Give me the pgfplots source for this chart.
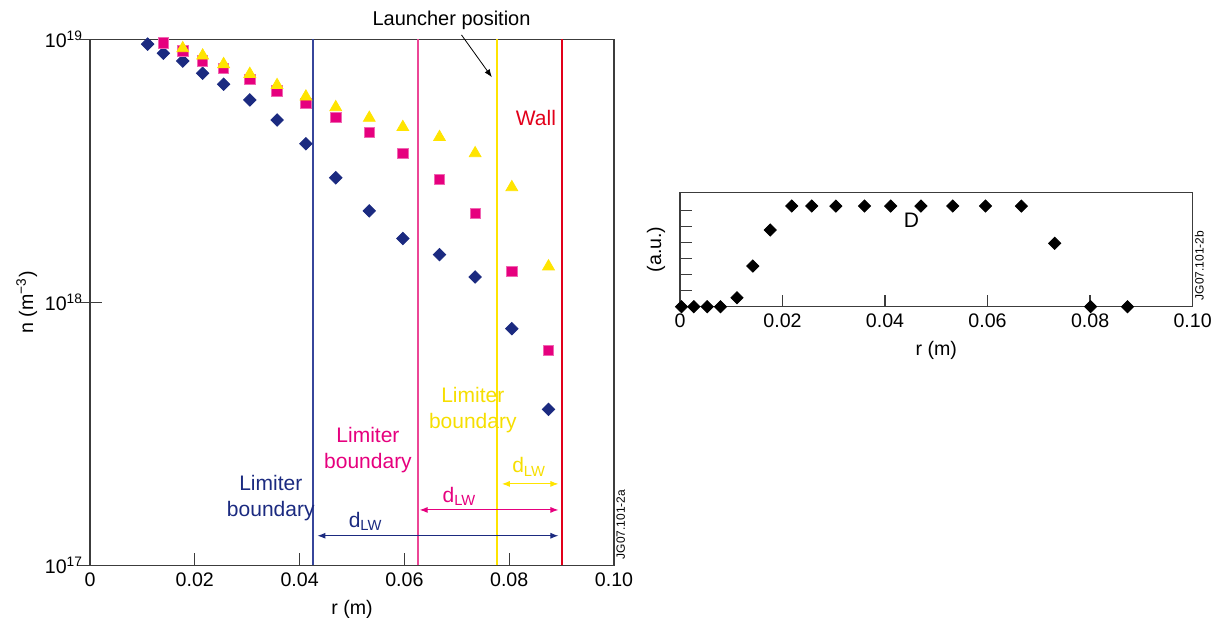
\documentclass[border=0pt]{standalone}
\usepackage{fontspec}
\setmainfont{Liberation Sans}
\usepackage{pgfplots}
\pgfplotsset{compat=1.18}
\usetikzlibrary{arrows.meta}
\definecolor{dblue}{RGB}{27,42,128}
\definecolor{lblue}{RGB}{55,70,155}
\definecolor{mag}{RGB}{230,0,126}
\definecolor{pinkline}{RGB}{236,70,150}
\definecolor{yel}{RGB}{255,228,0}
\definecolor{yeltext}{RGB}{246,222,0}
\definecolor{wallred}{RGB}{226,0,26}
\definecolor{axgray}{RGB}{60,60,60}
\begin{document}
\begin{tikzpicture}[font=\fontsize{9.8}{11}\selectfont]
\useasboundingbox (0,0) rectangle (610.5pt,308.5pt);
\begin{axis}[
  at={(45pt,25.75pt)}, anchor=south west,
  scale only axis, width=262pt, height=263pt,
  xmin=0, xmax=0.10, ymode=log, ymin=1e17, ymax=1e19,
  xtick={0,0.02,0.04,0.06,0.08,0.10},
  xticklabels={0,0.02,0.04,0.06,0.08,0.10},
  ytick={1e17,1e18,1e19},
  yticklabels={10\textsuperscript{17},10\textsuperscript{18},10\textsuperscript{19}},
  yminorticks=false,
  extra y ticks={1e17,1e18,1e19}, extra y tick labels={},
  extra y tick style={tick align=outside},
  xtick pos=bottom, ytick pos=left,
  tick align=inside, major tick length=6pt,
  axis line style={draw=axgray, line width=0.7pt},
  tick style={draw=axgray, line width=0.6pt},
  xlabel={r (m)}, ylabel={n (m\textsuperscript{−3})},
  ylabel shift=-9pt,
  clip=false,
]
\addplot[draw=lblue, line width=0.9pt] coordinates {(0.0425,1e17) (0.0425,1e19)};
\addplot[draw=pinkline, line width=0.9pt] coordinates {(0.0626,1e17) (0.0626,1e19)};
\addplot[draw=yel, line width=0.9pt] coordinates {(0.0777,1e17) (0.0777,1e19)};
\addplot[draw=wallred, line width=0.9pt] coordinates {(0.0901,1e17) (0.0901,1e19)};
\addplot[only marks, mark=square*, mark size=2.2pt, mark options={rotate=45, fill=dblue, draw=dblue}] coordinates {
(0.0110,9.6e18) (0.0140,8.86e18) (0.0177,8.28e18) (0.0215,7.44e18) (0.0255,6.76e18)
(0.0305,5.89e18) (0.0357,4.94e18) (0.0412,4.01e18) (0.0469,2.98e18) (0.0533,2.23e18)
(0.0597,1.75e18) (0.0667,1.52e18) (0.0735,1.25e18) (0.0805,7.95e17) (0.0875,3.92e17)};
\addplot[only marks, mark=square*, mark size=2.6pt, mark options={fill=mag, draw=mag!60}] coordinates {
(0.0140,9.7e18) (0.0177,9.04e18) (0.0215,8.28e18) (0.0255,7.77e18) (0.0305,7.06e18)
(0.0357,6.38e18) (0.0412,5.71e18) (0.0469,5.06e18) (0.0533,4.43e18) (0.0597,3.69e18)
(0.0667,2.94e18) (0.0735,2.18e18) (0.0805,1.31e18) (0.0875,6.56e17)};
\addplot[only marks, mark=triangle*, mark size=3.4pt, mark options={fill=yel, draw=yel}] coordinates {
(0.0177,9.25e18) (0.0215,8.68e18) (0.0255,8.05e18) (0.0305,7.39e18) (0.0357,6.70e18)
(0.0412,6.06e18) (0.0469,5.52e18) (0.0533,5.03e18) (0.0597,4.64e18) (0.0667,4.25e18)
(0.0735,3.69e18) (0.0805,2.74e18) (0.0875,1.37e18)};
% annotations
\node[font=\fontsize{10}{12}\selectfont] at (axis cs:0.069,1.186e19) {Launcher position};
\draw[-{Latex[length=4pt,width=3pt]}, line width=0.4pt] (axis cs:0.0709,1.040e19) -- (axis cs:0.0767,7.18e18);
\node[text=wallred, font=\fontsize{10.5}{12}\selectfont] at (axis cs:0.0851,5.03e18) {Wall};
\node[text=yeltext, align=center, font=\fontsize{10.5}{13}\selectfont] at (axis cs:0.07305,3.90e17) {Limiter\\boundary};
\node[text=mag, align=center, font=\fontsize{10.5}{13}\selectfont] at (axis cs:0.05305,2.748e17) {Limiter\\boundary};
\node[text=dblue, align=center, font=\fontsize{10.5}{13}\selectfont] at (axis cs:0.0345,1.807e17) {Limiter\\boundary};
\draw[{Latex[length=4pt,width=3pt]}-{Latex[length=4pt,width=3pt]}, draw=yel, fill=yel, line width=0.5pt] (axis cs:0.0786,2.042e17) -- (axis cs:0.0894,2.042e17);
\draw[{Latex[length=4pt,width=3pt]}-{Latex[length=4pt,width=3pt]}, draw=mag, fill=mag, line width=0.5pt] (axis cs:0.0629,1.626e17) -- (axis cs:0.0894,1.626e17);
\draw[{Latex[length=4pt,width=3pt]}-{Latex[length=4pt,width=3pt]}, draw=dblue, fill=dblue, line width=0.5pt] (axis cs:0.0434,1.297e17) -- (axis cs:0.0894,1.297e17);
\node[text=yeltext, font=\fontsize{10.5}{12}\selectfont] at (axis cs:0.0838,2.369e17) {d\textsubscript{LW}};
\node[text=mag, font=\fontsize{10.5}{12}\selectfont] at (axis cs:0.0705,1.827e17) {d\textsubscript{LW}};
\node[text=dblue, font=\fontsize{10.5}{12}\selectfont] at (axis cs:0.0526,1.467e17) {d\textsubscript{LW}};
\node[rotate=90, anchor=north west, font=\fontsize{6}{7}\selectfont, inner sep=1pt, xshift=2pt] at (axis cs:0.10,1e17) {JG07.101-2a};
\end{axis}
\begin{axis}[
  at={(340pt,155.15pt)}, anchor=south west,
  scale only axis, width=256.3pt, height=57.2pt,
  xmin=0, xmax=0.10, ymin=0, ymax=7.15,
  xtick={0,0.02,0.04,0.06,0.08,0.10},
  xticklabels={0,0.02,0.04,0.06,0.08,0.10},
  ytick={1,2,3,4,5,6}, yticklabels={},
  xtick pos=bottom, ytick pos=left,
  tick align=inside, major tick length=6pt,
  axis line style={draw=axgray, line width=0.7pt},
  tick style={draw=axgray, line width=0.6pt},
  xlabel={r (m)}, ylabel={(a.u.)},
  ylabel shift=-3pt,
  clip=false,
]
\addplot[only marks, mark=square*, mark size=2.15pt, mark options={rotate=45, fill=black, draw=black}] coordinates {
(0.0003,0) (0.0027,0) (0.0053,0) (0.0079,0) (0.0111,0.56) (0.0142,2.54) (0.0176,4.79)
(0.0218,6.29) (0.0257,6.29) (0.0304,6.29) (0.0360,6.29) (0.0411,6.29) (0.0470,6.29)
(0.0532,6.29) (0.0596,6.29) (0.0666,6.29) (0.0731,3.96) (0.0801,0) (0.0873,0)};
\node[font=\fontsize{10.5}{12}\selectfont] at (axis cs:0.04515,5.42) {D};
\node[rotate=90, anchor=north west, font=\fontsize{6}{7}\selectfont, inner sep=1pt, xshift=2pt] at (axis cs:0.10,0) {JG07.101-2b};
\end{axis}
\end{tikzpicture}
\end{document}
